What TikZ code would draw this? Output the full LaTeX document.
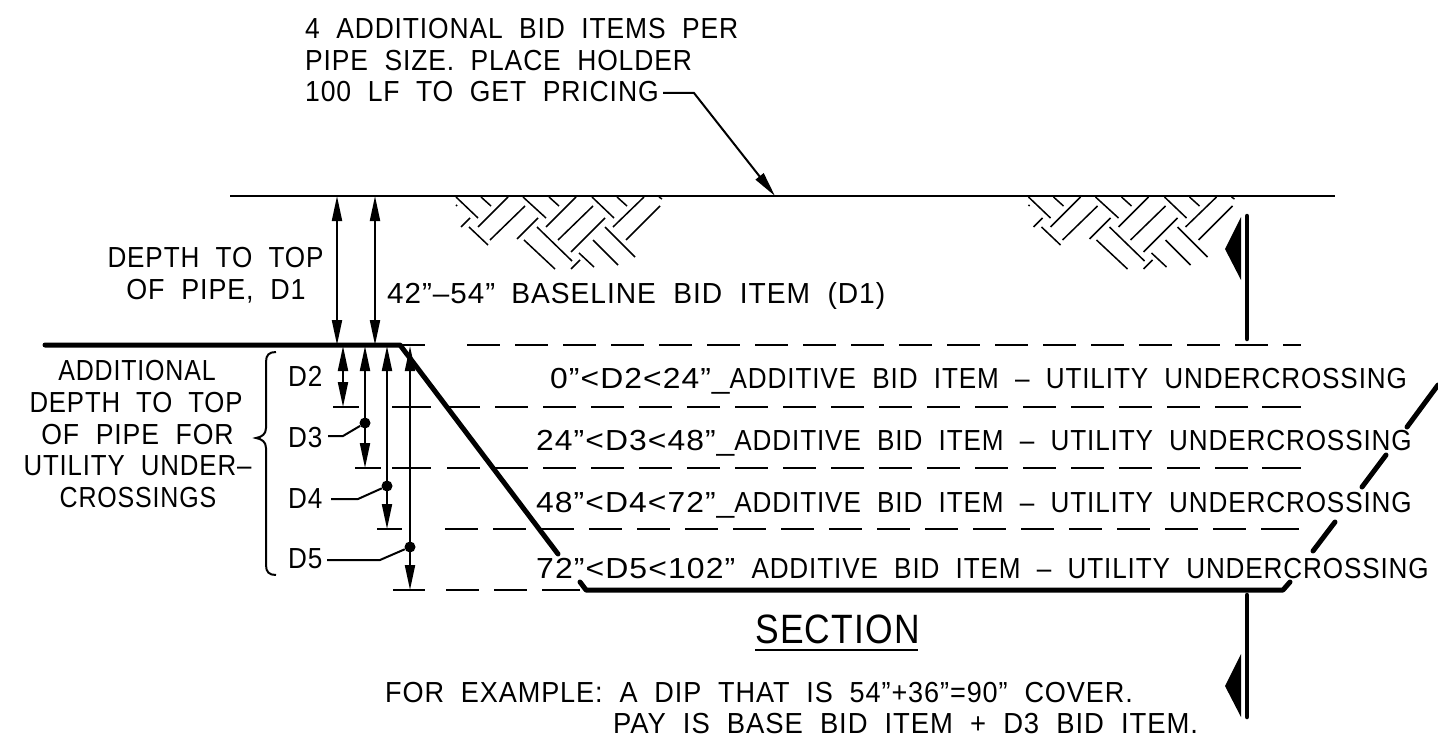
\documentclass[tikz,border=0pt]{standalone}
\usepackage{graphicx}
\usepackage{fontspec}
\setmainfont[FakeStretch=0.9,LetterSpace=3,WordSpace=2]{Liberation Sans}
\usepackage{tikz}
\usetikzlibrary{arrows.meta,positioning}
\newcommand{\wider}[2]{\scalebox{#1}[1]{#2}}
\tikzset{
  lbl/.style={anchor=base west,inner sep=0pt,font=\fontsize{29}{29}\selectfont},
  lblc/.style={lbl,anchor=base},
  thin line/.style={line width=2pt},
  heavy/.style={line width=5pt,line cap=round,line join=round},
  cutline/.style={line width=4.5pt,line cap=round},
  hidden/.style={line width=1.6pt,dash pattern=on 33pt off 15pt},
  hiddenend/.style={line width=1.6pt},
  dim/.style={thin line,{Triangle[length=25pt,width=10pt]}-{Triangle[length=25pt,width=10pt]}},
  tipend/.style={thin line,-{Triangle[length=25pt,width=10pt]}},
  hole/.style={circle,fill=black,inner sep=0pt,minimum size=11pt},
  hatch/.style={line width=1.5pt},
}
\newcommand{\soilpatch}{%
  \foreach \xa/\ya/\xb/\yb in {456/197/478/218,481/197/491/206,508/197/478/227,456/206/457/205,
    470/218/461/227,469/227/488/245,525/206/490/240,523/197/546/218,549/197/559/206,
    576/197/546/227,538/218/517/239,537/227/572/261,593/206/558/240,524/240/555/269,
    605/218/571/252,592/197/614/218,617/197/627/206,644/197/613/227,660/206/626/240,
    605/227/635/257,593/240/618/265,579/253/594/267,580/260/571/269,659/197/662/199}
    \draw[hatch] (\xa,\ya) -- (\xb,\yb);
}
\begin{document}
\begin{tikzpicture}[x=1pt,y=-1pt]
\useasboundingbox (0,0) rectangle (1438,749);
% notes at the top
\node[lbl] (note1) at (305,39) {\wider{1.012}{4 ADDITIONAL BID ITEMS PER}};
\node[lbl] (note2) at (305,71) {\wider{1.013}{PIPE SIZE. PLACE HOLDER}};
\node[lbl] (note3) at (305,102) {\wider{1.017}{100 LF TO GET PRICING}};
% ground
\coordinate (gl) at (230,196);
\coordinate (gr) at (1335,196);
\coordinate (gm) at (775,196);
\coordinate (bend) at (694,93);
\coordinate (leadstart) at (663,93);
\draw[thin line] (gl) -- (gr);
\draw[tipend] (leadstart) -- (bend) -- (gm);
\soilpatch
\begin{scope}[xshift=572.5pt]
\soilpatch
\end{scope}
% trench
\coordinate (p0) at (45,345);
\coordinate (p1) at (400,345);
\coordinate (p2) at (558,554);
\coordinate (p3) at (580,582);
\coordinate (p4) at (586,590);
\coordinate (p5) at (1283,590);
\coordinate (p6) at (1290,582);
\coordinate (p7) at (1313,551);
\coordinate (p8) at (1335,522);
\coordinate (p9) at (1362,487);
\coordinate (p10) at (1386,455);
\coordinate (p11) at (1407,427);
\coordinate (p12) at (1438,385);
\draw[heavy] (p0) -- (p1) -- (p2);
\draw[heavy] (p3) -- (p4) -- (p5) -- (p6);
\draw[heavy] (p7) -- (p8);
\draw[heavy] (p9) -- (p10);
\draw[heavy] (p11) -- (p12);
% levels
\draw[hiddenend] (400,345) -- (425,345);
\draw[hidden] (467,345) -- (1301,345);
\draw[hiddenend] (392,407) -- (431,407);
\draw[hidden] (447,407) -- (1250,407);
\draw[hiddenend] (1262,407) -- (1301,407);
\draw[hiddenend] (392,468) -- (431,468);
\draw[hidden] (447,468) -- (1250,468);
\draw[hiddenend] (1262,468) -- (1301,468);
\draw[hidden] (445,529) -- (1248,529);
\draw[hiddenend] (1261,529) -- (1299,529);
\draw[hiddenend] (393,590) -- (425,590);
\draw[hidden] (446,590) -- (536,590);
\draw[hiddenend] (542,590) -- (580,590);
\draw[thin line] (333,407) -- (359,407);
\draw[thin line] (355,468) -- (381,468);
\draw[thin line] (377,529) -- (402,529);
% depth to top of pipe
\draw[dim] (337,196) -- (337,345);
\draw[dim] (375,196) -- (375,345);
\draw[dim] (343,346) -- (343,407);
\draw[dim] (365,346) -- (365,468);
\draw[dim] (387,346) -- (387,529);
\draw[dim] (410,346) -- (410,590);
% depth labels
\node[lbl] (d2) at (288,386) {D2};
\node[lbl] (d3) at (288,447) {D3};
\node[lbl] (d4) at (288,508) {D4};
\node[lbl] (d5) at (288,568) {D5};
\node[hole] (h3) at (365,423) {};
\node[hole] (h4) at (387,486) {};
\node[hole] (h5) at (410,547) {};
\draw[thin line] (328,436) -- (343,436) -- (h3);
\draw[thin line] (331,499) -- (358,499) -- (h4);
\draw[thin line] (327,560) -- (380,560) -- (h5);
\draw[thin line] (276,352) .. controls (269,352) and (266,355) .. (266,362) -- (266,428)
  .. controls (266,434) and (262,437) .. (256,438) .. controls (262,439) and (266,442) .. (266,448)
  -- (266,565) .. controls (266,572) and (269,575) .. (276,575);
% left text
\node[lblc] (t1) at (215.5,267) {DEPTH TO TOP};
\node[lblc] (t2) at (216,299) {\wider{1.03}{OF PIPE, D1}};
\node[lbl] (t3) at (387,303) {\wider{1.135}{42”–54”} \wider{1.08}{BASELINE BID ITEM (D1)}};
\node[lblc] (a1) at (137,380) {\wider{.957}{ADDITIONAL}};
\node[lblc] (a2) at (136,412) {\wider{.986}{DEPTH TO TOP}};
\node[lblc] (a3) at (137.5,444) {\wider{1.02}{OF PIPE FOR}};
\node[lblc] (a4) at (137.5,475) {\wider{.99}{UTILITY UNDER–}};
\node[lblc] (a5) at (138,507) {\wider{.957}{CROSSINGS}};
% bid items
\node[lbl] (r2) at (550,388) {\wider{1.22}{0”<D2<24”\_}ADDITIVE BID ITEM – UTILITY UNDERCROSSING};
\node[lbl] (r3) at (536,450) {\wider{1.22}{24”<D3<48”\_}ADDITIVE BID ITEM – UTILITY UNDERCROSSING};
\node[lbl] (r4) at (536,512) {\wider{1.22}{48”<D4<72”\_}ADDITIVE BID ITEM – UTILITY UNDERCROSSING};
\node[lbl] (r5) at (536,578) {\wider{1.225}{72”<D5<102”} ADDITIVE BID ITEM – UTILITY UNDERCROSSING};
% section
\node[lbl,font=\fontsize{41}{41}\selectfont] (sect) at (755,643) {\wider{.96}{SECTION}};
\draw[thin line] (755,650) -- (918,650);
\node[lbl] (ex1) at (385,702) {\wider{1.037}{FOR EXAMPLE: A DIP THAT IS 54”+36”=90” COVER.}};
\node[lbl] (ex2) at (613,733) {\wider{1.052}{PAY IS BASE BID ITEM + D3 BID ITEM.}};
% cut marks
\coordinate (c1) at (1247,216);
\coordinate (c2) at (1247,339);
\coordinate (c3) at (1247,595);
\coordinate (c4) at (1247,717);
\draw[cutline] (c1) -- (c2);
\draw[cutline] (c3) -- (c4);
\fill (1241,217) -- (1225,249) -- (1241,280) -- cycle;
\fill (1241,654) -- (1225,686) -- (1241,717) -- cycle;
\end{tikzpicture}
\end{document}
